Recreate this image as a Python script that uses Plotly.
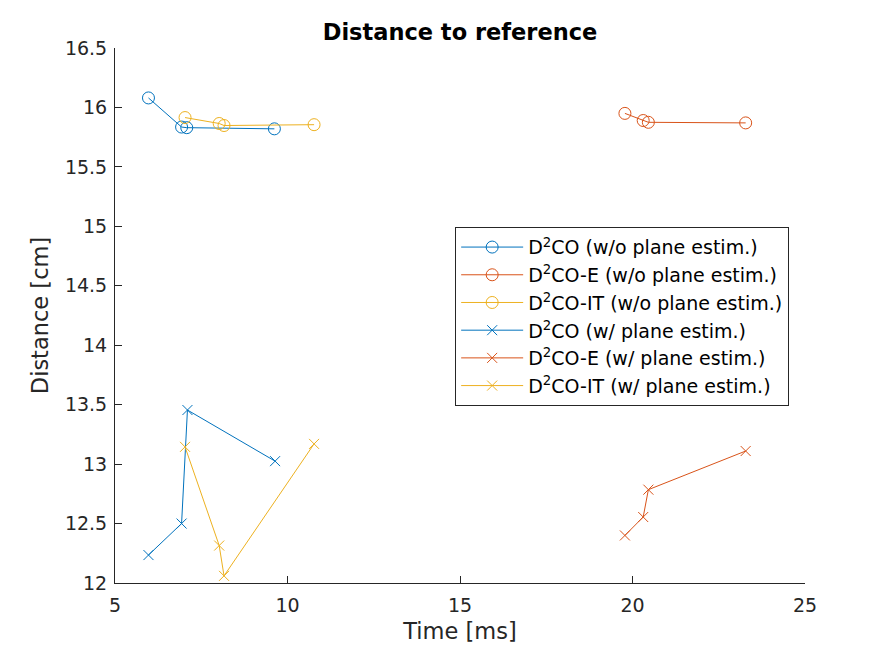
import plotly.graph_objects as go

# Data (time in ms, distance in cm)
d2co_wo_t = [5.97, 6.93, 7.08, 9.62]
d2co_wo_d = [16.08, 15.835, 15.83, 15.82]
d2coe_wo_t = [19.78, 20.31, 20.46, 23.28]
d2coe_wo_d = [15.95, 15.89, 15.875, 15.87]
d2coit_wo_t = [7.03, 8.02, 8.16, 10.77]
d2coit_wo_d = [15.915, 15.865, 15.848, 15.855]

d2co_w_t = [5.97, 6.93, 7.10, 9.64]
d2co_w_d = [12.235, 12.50, 13.455, 13.025]
d2coe_w_t = [19.78, 20.31, 20.46, 23.28]
d2coe_w_d = [12.40, 12.555, 12.785, 13.11]
d2coit_w_t = [7.03, 8.02, 8.16, 10.77]
d2coit_w_d = [13.145, 12.315, 12.06, 13.17]

names = ["D<sup>2</sup>CO (w/o plane estim.)",
         "D<sup>2</sup>CO-E (w/o plane estim.)",
         "D<sup>2</sup>CO-IT (w/o plane estim.)",
         "D<sup>2</sup>CO (w/ plane estim.)",
         "D<sup>2</sup>CO-E (w/ plane estim.)",
         "D<sup>2</sup>CO-IT (w/ plane estim.)"]

x_ticks = [5, 10, 15, 20, 25]
y_ticks = [12, 12.5, 13, 13.5, 14, 14.5, 15, 15.5, 16, 16.5]
y_ticktext = ["12", "12.5", "13", "13.5", "14", "14.5", "15", "15.5", "16", "16.5"]

colors = ["#0072BD", "#D95319", "#EDB120"]

series = [
    (d2co_wo_t, d2co_wo_d, 0, "circle-open", 12),
    (d2coe_wo_t, d2coe_wo_d, 1, "circle-open", 12),
    (d2coit_wo_t, d2coit_wo_d, 2, "circle-open", 12),
    (d2co_w_t, d2co_w_d, 0, "x-thin-open", 10),
    (d2coe_w_t, d2coe_w_d, 1, "x-thin-open", 10),
    (d2coit_w_t, d2coit_w_d, 2, "x-thin-open", 10),
]

fig = go.Figure()
for (t, d, ci, sym, sz), name in zip(series, names):
    fig.add_trace(go.Scatter(
        x=t, y=d, mode="lines+markers", name=name,
        line=dict(color=colors[ci], width=1),
        marker=dict(symbol=sym, size=sz, color=colors[ci],
                    line=dict(color=colors[ci], width=1)),
    ))

axis_common = dict(
    showgrid=False, zeroline=False, showline=True, linecolor="#262626",
    linewidth=1, ticks="inside", ticklen=7, tickcolor="#262626",
    tickfont=dict(family="DejaVu Sans", size=19, color="#262626"),
    mirror=False,
)

W, H = 883, 648
fig.update_layout(
    width=W, height=H,
    paper_bgcolor="white", plot_bgcolor="white",
    margin=dict(l=107, r=86, t=40, b=73),
    title=dict(text="<b>Distance to reference</b>", x=0.5, xref="paper",
               xanchor="center", y=1 - 24 / H, yref="container", yanchor="middle",
               font=dict(family="DejaVu Sans", size=22.5, color="black")),
    xaxis=dict(range=[5, 25], tickvals=x_ticks, ticklabelstandoff=5,
               title=dict(text="Time [ms]", standoff=8,
                          font=dict(family="DejaVu Sans", size=22.5, color="#262626")),
               **axis_common),
    yaxis=dict(range=[12, 16.5], tickvals=y_ticks, ticktext=y_ticktext,
               ticklabelstandoff=3,
               title=dict(text="Distance [cm]", standoff=10,
                          font=dict(family="DejaVu Sans", size=22.5, color="#262626")),
               **axis_common),
    legend=dict(x=0.493, y=0.665, xanchor="left", yanchor="top",
                bgcolor="white", bordercolor="#262626", borderwidth=1,
                font=dict(family="DejaVu Sans", size=19, color="black"),
                tracegroupgap=0, itemwidth=62),
    showlegend=True,
)

fig.write_html("out.html")
